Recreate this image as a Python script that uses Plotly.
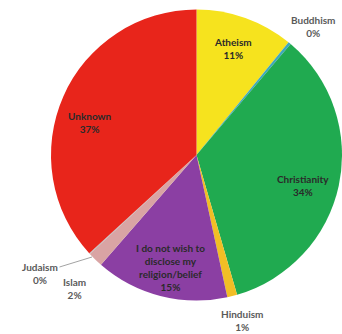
import plotly.graph_objects as go

categories = ["Atheism", "Buddhism", "Christianity", "Hinduism",
              "I do not wish to disclose my religion/belief", "Islam", "Judaism", "Unknown"]
display_names = ["Atheism", "Buddhism", "Christianity", "Hinduism",
                 "I do not wish to<br>disclose my<br>religion/belief", "Islam", "Judaism", "Unknown"]
values = [10.9, 0.3, 34.3, 1.1, 14.8, 1.7, 0.1, 36.8]
colors = ["#F6E31E", "#3FA8BE", "#20AA50", "#F1BE25", "#8B3FA3", "#D9A4A4", "#B8B8B8", "#E8251B"]

# label anchor positions in pixels (x, y) and whether inside the slice
label_pos = [(233, 48, True), (313, 26, False), (303, 186, True), (242, 320, False),
             (170, 267, True), (74, 288, False), (40, 273, False), (90, 122, True)]

W, H = 342, 334
cx, cy, r = 196.5, 155, 145.5

fig = go.Figure(go.Pie(
    labels=categories,
    values=values,
    sort=False,
    direction="clockwise",
    rotation=0,
    marker=dict(colors=colors, line=dict(width=0)),
    textinfo="none",
    hoverinfo="label+percent",
    domain=dict(x=[(cx - r) / W, min(1, (cx + r) / W)], y=[1 - (cy + r) / H, 1 - (cy - r) / H]),
    showlegend=False,
))

total = sum(values)
annotations = []
for name, v, (px, py, inside) in zip(display_names, values, label_pos):
    pct = round(100 * v / total)
    txt = f"{name}<br>{pct}%"
    a = dict(x=px / W, y=1 - py / H, xref="paper", yref="paper", text=txt,
             showarrow=False, xanchor="center", yanchor="middle",
             font=dict(family="Lato", size=10, color="#2a2a2a" if inside else "#5a5a5a",
                       weight="bold"))
    if name == "Judaism":
        a.update(x=92 / W, y=1 - 257 / H, showarrow=True, arrowhead=0, arrowwidth=0.8,
                 arrowcolor="#8a8a8a", ax=px - 92, ay=py - 257, standoff=0)
    annotations.append(a)

fig.update_layout(
    width=W, height=H,
    margin=dict(l=0, r=0, t=0, b=0),
    paper_bgcolor="white",
    plot_bgcolor="white",
    annotations=annotations,
)

fig.write_html("out.html")
